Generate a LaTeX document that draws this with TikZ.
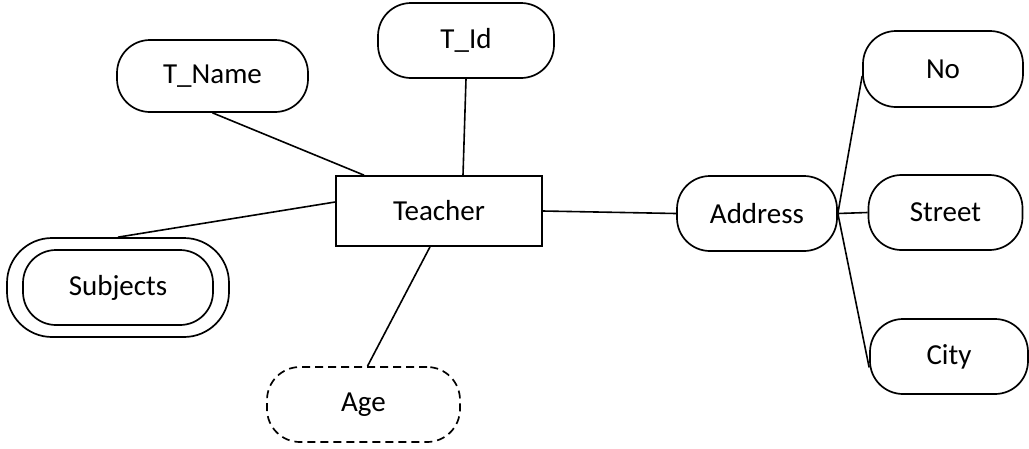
\documentclass[tikz,border=0pt]{standalone}
\usepackage{fontspec}
\setmainfont{Carlito}
\begin{document}
\begin{tikzpicture}[x=1pt,y=-1pt,
  line width=1.7pt,
  font=\fontsize{29}{34}\selectfont,
  entity/.style={draw, rectangle, minimum width=206pt, minimum height=70pt, inner sep=0pt},
  attr/.style={draw, rectangle, rounded corners=33pt, minimum height=75pt, inner sep=0pt},
  multi/.style={draw, rectangle, rounded corners=45pt, minimum width=222pt, minimum height=99pt, inner sep=0pt},
  derived/.style={attr, dash pattern=on 8pt off 5pt},
  link/.style={draw, line width=1.6pt}]
\useasboundingbox (0,0) rectangle (1029,448);

% entity
\node[entity] (teacher) at (439,211) {Teacher};

% attributes of Teacher
\node[attr, minimum width=176pt] (tid) at (466,40.5) {T\_Id};
\node[attr, minimum width=191pt, minimum height=72pt] (tname) at (212.5,76) {T\_Name};
\node[multi] (subjouter) at (118,287.5) {};
\node[attr, minimum width=190pt] (subjects) at (118,287.5) {Subjects};
\node[derived, minimum width=193pt] (age) at (363.5,404.5) {Age};

% composite attribute and its parts
\node[attr, minimum width=160pt] (address) at (757,213.5) {Address};
\node[attr, minimum width=160pt, minimum height=76pt] (no) at (943,69) {No};
\node[attr, minimum width=154pt] (street) at (945.5,212.5) {Street};
\node[attr, minimum width=158pt] (city) at (949,356.5) {City};

% connectors
\draw[link] (tname.south) -- ([xshift=-75pt]teacher.north);
\draw[link] (tid.south) -- ([xshift=24pt]teacher.north);
\draw[link] (subjouter.north) -- ([yshift=9pt]teacher.west);
\draw[link] ([xshift=4pt]age.north) -- ([xshift=-9pt]teacher.south);
\draw[link] (teacher.east) -- (address.west);
\draw[link] (address.east) -- ([yshift=-7pt]no.west);
\draw[link] (address.east) -- (street.west);
\draw[link] (address.east) -- ([yshift=-11pt]city.west);
\end{tikzpicture}
\end{document}
